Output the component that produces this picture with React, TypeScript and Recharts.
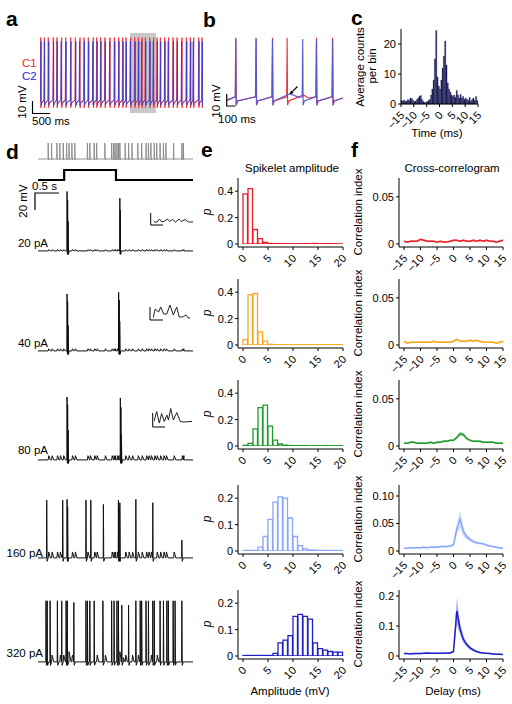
import React from 'react';
import { LineChart, Line, BarChart, Bar, ComposedChart, Area, XAxis, YAxis, ReferenceArea } from 'recharts';

const FONT = '"Liberation Sans", Arial, Helvetica, sans-serif';

// ---- panel a: paired recording, spike times in ms ----
const aC1Spikes = [19, 120, 231, 370, 472, 602, 713, 852, 982, 1112, 1223, 1343, 1482, 1575, 1686, 1806, 1946, 2066, 2187, 2298, 2391, 2520, 2632, 2734, 2836, 2928, 3048, 3159, 3252, 3345, 3465, 3576, 3697, 3808, 3947, 4067, 4178, 4271, 4410, 4503];
const aC2Spikes = [30, 128, 245, 378, 480, 590, 725, 860, 995, 1100, 1235, 1355, 1470, 1590, 1695, 1815, 1935, 2080, 2195, 2310, 2400, 2510, 2645, 2745, 2825, 2940, 3060, 3150, 3265, 3355, 3475, 3565, 3710, 3820, 3935, 4080, 4190, 4260, 4420, 4515];
const aWindow = [2502, 3225];

// ---- panel b: zoom of the shaded window ----
const bC1Spikes = [97, 322, 507, 669, 996, 1173];
const bC2Spikes = [99, 325, 505, 842, 994, 1176];
const bC1Bumps = [[850, -57.5], [905, -60]];
const bC2Bumps = [[700, -56.5], [800, -59.5]];

// ---- panel c: cross-correlation histogram, 0.5 ms bins from -15 ms ----
const cCounts = [
  1.2, 1.0, 1.3, 0.8, 1.0, 1.5, 1.2, 2.0, 1.8, 1.2,
  0.8, 1.0, 1.5, 2.0, 2.6, 2.8, 1.5, 0.8, 0.5, 0.6,
  0.8, 1.2, 1.5, 3.0, 5.0, 8.0, 15.0, 24.5, 9.0, 6.0,
  5.0, 8.0, 12.0, 16.0, 21.0, 13.0, 7.0, 5.0, 4.0, 3.0,
  2.5, 3.0, 2.2, 4.5, 3.0, 2.0, 3.2, 2.0, 2.5, 1.5,
  2.0, 1.5, 1.2, 2.2, 1.0, 1.5, 2.0, 1.2, 2.5, 1.2,
];
const cTicks = [-15, -10, -5, 0, 5, 10, 15];

// ---- panel d: presynaptic train, current step, postsynaptic responses (s, mV) ----
const dPreSpikes = [0.21, 0.28, 0.39, 0.45, 0.52, 0.59, 0.64, 0.70, 0.76, 1.02, 1.07, 1.16, 1.21, 1.38, 1.52, 1.56, 1.59, 1.63, 1.66, 1.69, 1.80, 1.87, 1.94, 2.06, 2.14, 2.23, 2.28, 2.33, 2.40, 2.45, 2.52, 2.59, 2.64, 2.80, 2.97, 3.00];
const dStep = [[0, 0], [0.54, 0], [0.54, 1], [1.61, 1], [1.61, 0], [3.2, 0]];
const dLabels = ['20 pA', '40 pA', '80 pA', '160 pA', '320 pA'];
const d20Spikes = [[0.6, 70], [0.612, 60], [0.622, 35], [1.69, 62], [1.7, 48]];
const d40Spikes = [[0.6, 67], [0.612, 58], [0.622, 30], [1.665, 69], [1.677, 60], [1.687, 35]];
const d80Spikes = [[0.6, 74], [0.612, 65], [0.622, 35], [1.7, 73], [1.712, 62], [1.722, 30]];
const d160Spikes = [[0.18, 68], [0.51, 68], [0.6, 69], [0.612, 60], [0.99, 68], [1.09, 68], [1.35, 63], [1.66, 68], [1.672, 60], [1.69, 65], [2.02, 69], [2.37, 65], [2.97, 21]];
const d320Spikes = [[0.165, 72], [0.19, 72], [0.25, 72], [0.40, 72], [0.49, 72], [0.58, 72], [0.605, 72], [0.74, 70], [0.99, 72], [1.02, 72], [1.07, 72], [1.16, 72], [1.34, 72], [1.52, 72], [1.57, 72], [1.63, 72], [1.66, 72], [1.73, 67], [1.87, 67], [2.02, 72], [2.11, 72], [2.14, 72], [2.23, 72], [2.28, 72], [2.37, 72], [2.40, 72], [2.52, 72], [2.59, 72], [2.66, 72], [2.69, 72], [2.79, 72], [2.83, 72], [2.97, 72]];
const d320Humps = [[0.64, 12], [0.7, 4], [1.69, 12], [1.76, 5]];
const dSpikeletAmp = [1.5, 2.5, 5, 7, 8];
const dSpikeletShape = [[0, 0], [0.012, 1], [0.045, 0]];
const inset20 = [[0, 2], [8, 2], [14, 5], [20, 2], [28, 3], [34, 5], [40, 2.5], [48, 4.5], [55, 2], [64, 5], [70, 2.5], [80, 4.5], [88, 2], [100, 2]];
const inset40 = [[0, 1], [6, 10], [15, 7], [21, 12], [29, 5], [37, 5], [46, 14], [55, 4], [64, 12], [71, 2], [80, 2], [89, 4], [95, 1], [100, 1]];
const inset80 = [[0, 1.5], [7, 11.5], [14, 0], [20, 9.5], [27, 1.5], [34, 8], [38, 3], [44, 14.5], [51, 3], [60, 10.5], [69, 1.5], [78, 1], [100, 1.5]];

// ---- panel e: spikelet amplitude distributions, 1 mV bins 0..20 ----
const eRed = [0.38, 0.42, 0.11, 0.04, 0.012, 0.004, 0.003, 0.003, 0.002, 0.002, 0.002, 0.002, 0.003, 0.002, 0.004, 0.002, 0.003, 0.003, 0.002, 0.001];
const eOrange = [0.04, 0.38, 0.39, 0.1, 0.03, 0.005, 0.003, 0.002, 0.002, 0.002, 0.002, 0.002, 0.002, 0.002, 0.002, 0.002, 0.002, 0.003, 0.003, 0.003];
const eGreen = [0.005, 0.02, 0.13, 0.29, 0.31, 0.15, 0.045, 0.015, 0.006, 0.004, 0.003, 0.003, 0.003, 0.002, 0.003, 0.002, 0.003, 0.002, 0.002, 0.002];
const eLight = [0.002, 0.002, 0.002, 0.015, 0.055, 0.12, 0.185, 0.205, 0.2, 0.125, 0.055, 0.02, 0.008, 0.004, 0.003, 0.002, 0.002, 0.002, 0.002, 0.002];
const eDark = [0.002, 0.002, 0.002, 0.002, 0.002, 0.002, 0.01, 0.05, 0.06, 0.077, 0.15, 0.158, 0.15, 0.14, 0.05, 0.028, 0.022, 0.017, 0.015, 0.015];
const eTicks = [0, 5, 10, 15, 20];

// ---- panel f: cross-correlograms, mean and s.e.m. per 1 ms delay ----
const fDelays = [-15, -14, -13, -12, -11, -10, -9, -8, -7, -6, -5, -4, -3, -2, -1, 0, 1, 2, 3, 4, 5, 6, 7, 8, 9, 10, 11, 12, 13, 14, 15];
const fRed = [0.003, 0.002, 0.003, 0.003, 0.003, 0.005, 0.004, 0.003, 0.003, 0.003, 0.002, 0.003, 0.002, 0.002, 0.003, 0.004, 0.004, 0.003, 0.004, 0.003, 0.003, 0.004, 0.003, 0.004, 0.003, 0.004, 0.003, 0.003, 0.002, 0.003, 0.004];
const fOrange = [0.004, 0.002, 0.003, 0.003, 0.003, 0.003, 0.003, 0.003, 0.003, 0.004, 0.003, 0.003, 0.003, 0.003, 0.003, 0.004, 0.006, 0.004, 0.004, 0.004, 0.005, 0.004, 0.005, 0.004, 0.003, 0.003, 0.003, 0.003, 0.002, 0.003, 0.004];
const fGreen = [0.003, 0.003, 0.004, 0.004, 0.003, 0.003, 0.003, 0.003, 0.004, 0.003, 0.004, 0.004, 0.005, 0.005, 0.006, 0.006, 0.009, 0.013, 0.012, 0.008, 0.006, 0.005, 0.005, 0.005, 0.004, 0.004, 0.004, 0.004, 0.003, 0.003, 0.003];
const fLight = [0.005, 0.005, 0.006, 0.006, 0.006, 0.006, 0.007, 0.006, 0.007, 0.007, 0.007, 0.008, 0.008, 0.008, 0.009, 0.012, 0.04, 0.058, 0.035, 0.026, 0.021, 0.017, 0.015, 0.014, 0.013, 0.011, 0.009, 0.008, 0.007, 0.006, 0.005];
const fDark = [0.008, 0.008, 0.007, 0.008, 0.008, 0.008, 0.009, 0.01, 0.009, 0.009, 0.009, 0.009, 0.009, 0.01, 0.01, 0.015, 0.15, 0.09, 0.055, 0.038, 0.027, 0.02, 0.015, 0.012, 0.01, 0.009, 0.008, 0.007, 0.006, 0.006, 0.005];
const fRedSem = [0.001, 0.001, 0.001, 0.001, 0.001, 0.001, 0.001, 0.001, 0.001, 0.001, 0.001, 0.001, 0.001, 0.001, 0.001, 0.001, 0.001, 0.001, 0.001, 0.001, 0.001, 0.001, 0.001, 0.001, 0.001, 0.001, 0.001, 0.001, 0.001, 0.001, 0.001];
const fOrangeSem = [0.001, 0.001, 0.001, 0.001, 0.001, 0.001, 0.001, 0.001, 0.001, 0.001, 0.001, 0.001, 0.001, 0.001, 0.001, 0.001, 0.0015, 0.001, 0.001, 0.001, 0.001, 0.001, 0.001, 0.001, 0.001, 0.001, 0.001, 0.001, 0.001, 0.001, 0.001];
const fGreenSem = [0.001, 0.001, 0.001, 0.001, 0.001, 0.001, 0.001, 0.001, 0.001, 0.001, 0.001, 0.001, 0.001, 0.001, 0.001, 0.0012, 0.0018, 0.0025, 0.002, 0.0015, 0.001, 0.001, 0.001, 0.001, 0.001, 0.001, 0.001, 0.001, 0.001, 0.001, 0.001];
const fLightSem = [0.0015, 0.0015, 0.0015, 0.0015, 0.0015, 0.0015, 0.0015, 0.0015, 0.0015, 0.0015, 0.0015, 0.0015, 0.0015, 0.0015, 0.002, 0.003, 0.01, 0.016, 0.008, 0.005, 0.004, 0.003, 0.0025, 0.002, 0.002, 0.002, 0.0015, 0.0015, 0.0015, 0.0015, 0.0015];
const fDarkSem = [0.002, 0.002, 0.002, 0.002, 0.002, 0.002, 0.002, 0.002, 0.002, 0.002, 0.002, 0.002, 0.002, 0.002, 0.003, 0.005, 0.045, 0.02, 0.012, 0.008, 0.006, 0.004, 0.003, 0.003, 0.003, 0.002, 0.002, 0.002, 0.002, 0.002, 0.002];
const fTicks = [-15, -10, -5, 0, 5, 10, 15];

const COLORS = ['#ee1c25', '#f7a81b', '#1e9a2a', '#8aa6ff', '#1f1fc8'];
const ROW_TOPS = [178, 279, 380, 485, 590];

type Shape = { pre: number[]; post: number[][] };
const aShapeC1: Shape = { pre: [-12, -60], post: [[4, -66], [18, -63]] };
const aShapeC2: Shape = { pre: [-12, -60], post: [[4, -64], [18, -62]] };
const bShape: Shape = { pre: [-6, -59], post: [[5, -66], [18, -62.5]] };
const dShape: Shape = { pre: [-0.004, 0], post: [[0.008, -4], [0.03, 0]] };

const spikePoints = (spikes: number[][], shape: Shape) =>
  spikes.flatMap(([t, peak]) => [[t + shape.pre[0], shape.pre[1]], [t, peak], ...shape.post.map(([dt, v]) => [t + dt, v])]);

const byTime = (a: any, b: any) => a.t - b.t;

const pairRows = (c1: number[][], c2: number[][]) =>
  [...c1.map(([t, v]) => ({ t, c1: v })), ...c2.map(([t, v]) => ({ t, c2: v }))].sort(byTime);

const dTraceRows = (spikes: number[][], amp: number, extra: number[][]) => {
  const near = (t: number) => spikes.some(([s]) => Math.abs(s - t) < 0.03);
  const lets = dPreSpikes.filter((t) => !near(t)).flatMap((t) => dSpikeletShape.map(([dt, k]) => [t + dt, k * amp]));
  return [[0, 0], [3.2, 0], ...spikePoints(spikes, dShape), ...lets, ...extra]
    .map(([t, v]) => ({ t, v }))
    .sort(byTime);
};

const aRows = pairRows(
  [[0, -62], ...spikePoints(aC1Spikes.map((t) => [t, -12]), aShapeC1), [4530, -62]],
  [[0, -61], ...spikePoints(aC2Spikes.map((t) => [t, -15]), aShapeC2), [4530, -61]],
);
const bRows = pairRows(
  [[0, -62], ...spikePoints(bC1Spikes.map((t) => [t, -10]), bShape), ...bC1Bumps, [1290, -60]],
  [[0, -61.5], ...spikePoints(bC2Spikes.map((t) => [t, -11]), bShape), ...bC2Bumps, [1290, -60]],
);
const preRows = [[0, 0], [3.2, 0], ...spikePoints(dPreSpikes.map((t) => [t, 16]), { pre: [-0.004, 0], post: [[0.008, -1], [0.02, 0]] })]
  .map(([t, v]) => ({ t, v }))
  .sort(byTime);
const stepRows = dStep.map(([t, v]) => ({ t, v }));
const dTraces = [
  dTraceRows(d20Spikes, dSpikeletAmp[0], []),
  dTraceRows(d40Spikes, dSpikeletAmp[1], []),
  dTraceRows(d80Spikes, dSpikeletAmp[2], []),
  dTraceRows(d160Spikes, dSpikeletAmp[3], []),
  dTraceRows(d320Spikes, dSpikeletAmp[4], d320Humps),
];
const D_BASELINES = [251, 351, 460, 558, 662];
const cRows = cCounts.map((n, i) => ({ t: -15 + 0.25 + i * 0.5, n }));

const fmtDash = (v: number) => String(v).replace('-', '\u2013');

const RotTick = (props: any) => {
  const { x, y, payload } = props;
  const px = x + 4;
  const py = y + 7;
  return (
    <text x={px} y={py} textAnchor="end" fontSize={11} fontFamily={FONT} fill="#000" transform={`rotate(-45 ${px} ${py})`}>
      {fmtDash(payload.value)}
    </text>
  );
};

const yTick = { fontSize: 11, fill: '#000', fontFamily: FONT };

const Trace = ({ rows, left, top, width, height, xDomain, yDomain, keys, colors, sw, children }: any) => (
  <div style={{ position: 'absolute', left, top }}>
    <LineChart width={width} height={height} data={rows} margin={{ top: 0, right: 0, bottom: 0, left: 0 }}>
      <XAxis type="number" dataKey="t" domain={xDomain} hide allowDataOverflow />
      <YAxis type="number" domain={yDomain} hide allowDataOverflow />
      {children}
      {keys.map((k: string, i: number) => (
        <Line key={k} dataKey={k} stroke={colors[i]} strokeWidth={sw} dot={false} connectNulls isAnimationActive={false} />
      ))}
    </LineChart>
  </div>
);

const Inset = ({ pts, left, top, width, height, yMax }: any) => (
  <Trace rows={pts.map(([t, v]: number[]) => ({ t, v }))} left={left} top={top} width={width} height={height}
    xDomain={[0, 100]} yDomain={[0, yMax]} keys={['v']} colors={['#222']} sw={1} />
);

const Hist = ({ row, values, color, yMax, yTicks }: any) => (
  <div style={{ position: 'absolute', left: 208, top: ROW_TOPS[row] - 3 }}>
    <BarChart width={143} height={100} data={values.map((p: number, i: number) => ({ x: i + 0.5, p }))} margin={{ top: 3, right: 8, bottom: 0, left: 0 }}>
      <XAxis type="number" dataKey="x" domain={[0, 20]} ticks={eTicks} interval={0} padding={{ left: 5, right: 0 }} height={28} tickSize={3} tick={<RotTick />} stroke="#000" />
      <YAxis type="number" domain={[0, yMax]} ticks={yTicks} interval={0} width={30} padding={{ top: 0, bottom: 3 }} tickSize={3} tick={yTick} stroke="#000" allowDataOverflow />
      <Bar dataKey="p" barSize={5} fill="#fff" stroke={color} strokeWidth={1.3} isAnimationActive={false} />
    </BarChart>
  </div>
);

const Corr = ({ row, mean, sem, color, yMax, yTicks, yLabels }: any) => (
  <div style={{ position: 'absolute', left: 359, top: ROW_TOPS[row] - 3 }}>
    <ComposedChart width={152} height={100} data={fDelays.map((d, i) => ({ d, m: mean[i], band: [mean[i] - sem[i], mean[i] + sem[i]] }))} margin={{ top: 3, right: 8, bottom: 0, left: 0 }}>
      <XAxis type="number" dataKey="d" domain={[-15, 15]} ticks={fTicks} interval={0} padding={{ left: 5, right: 0 }} height={28} tickSize={3} tick={<RotTick />} stroke="#000" />
      <YAxis type="number" domain={[0, yMax]} ticks={yTicks} interval={0} width={40} padding={{ top: 0, bottom: 3 }} tickSize={3} tick={yTick}
        tickFormatter={(v: number) => yLabels[yTicks.indexOf(v)] ?? String(v)} stroke="#000" allowDataOverflow />
      <Area dataKey="band" stroke="none" fill={color} fillOpacity={0.35} isAnimationActive={false} />
      <Line dataKey="m" stroke={color} strokeWidth={1.5} dot={false} isAnimationActive={false} />
    </ComposedChart>
  </div>
);

const T = ({ x, y, children, size = 11.5, anchor = 'start', fill = '#000', weight = 'normal', italic = false, rot = false }: any) => (
  <text x={rot ? 0 : x} y={rot ? 0 : y} transform={rot ? `translate(${x} ${y}) rotate(-90)` : undefined} fontSize={size}
    textAnchor={anchor} fill={fill} fontWeight={weight} fontStyle={italic ? 'italic' : 'normal'} fontFamily={FONT}>
    {children}
  </text>
);

export default function App() {
  const eSets = [
    { values: eRed, yMax: 0.5, yTicks: [0, 0.2, 0.4] },
    { values: eOrange, yMax: 0.5, yTicks: [0, 0.2, 0.4] },
    { values: eGreen, yMax: 0.5, yTicks: [0, 0.2, 0.4] },
    { values: eLight, yMax: 0.25, yTicks: [0, 0.1, 0.2] },
    { values: eDark, yMax: 0.25, yTicks: [0, 0.1, 0.2] },
  ];
  const fSets = [
    { mean: fRed, sem: fRedSem, yMax: 0.07, yTicks: [0, 0.05], yLabels: ['0', '0.05'] },
    { mean: fOrange, sem: fOrangeSem, yMax: 0.07, yTicks: [0, 0.05], yLabels: ['0', '0.05'] },
    { mean: fGreen, sem: fGreenSem, yMax: 0.07, yTicks: [0, 0.05], yLabels: ['0', '0.05'] },
    { mean: fLight, sem: fLightSem, yMax: 0.12, yTicks: [0, 0.05, 0.1], yLabels: ['0', '0.05', '0.10'] },
    { mean: fDark, sem: fDarkSem, yMax: 0.22, yTicks: [0, 0.1, 0.2], yLabels: ['0', '0.1', '0.2'] },
  ];
  return (
    <div style={{ position: 'absolute', left: 0, top: 0, width: 512, height: 704, background: '#fff', overflow: 'hidden' }}>
      {/* a */}
      <Trace rows={aRows} left={40} top={33} width={163} height={80} xDomain={[0, 4530]} yDomain={[-70, -8.5]}
        keys={['c1', 'c2']} colors={['#f0303a', '#3b3bd0']} sw={0.9}>
        <ReferenceArea x1={aWindow[0]} x2={aWindow[1]} fill="#c8c8c8" fillOpacity={1} stroke="none" />
      </Trace>
      {/* b */}
      <Trace rows={bRows} left={227} top={33} width={116} height={77} xDomain={[0, 1290]} yDomain={[-70, -6]}
        keys={['c1', 'c2']} colors={['#f0303a', '#5656d8']} sw={1.1} />
      {/* c */}
      <div style={{ position: 'absolute', left: 371, top: 25 }}>
        <BarChart width={115} height={109} data={cRows} margin={{ top: 4, right: 8, bottom: 0, left: 0 }}>
          <XAxis type="number" dataKey="t" domain={[-15, 15]} ticks={cTicks} interval={0} height={30} tickSize={3} tick={<RotTick />} stroke="#000" />
          <YAxis type="number" domain={[0, 25]} ticks={[0, 10, 20]} interval={0} width={30} tickSize={3} tick={yTick} stroke="#000" />
          <Bar dataKey="n" barSize={1.3} fill="#1b1b55" stroke="#1b1b55" strokeWidth={0.3} isAnimationActive={false} />
        </BarChart>
      </div>
      {/* d */}
      <Trace rows={preRows} left={38} top={141} width={155} height={20} xDomain={[0, 3.2]} yDomain={[-2, 18]} keys={['v']} colors={['#888']} sw={0.9} />
      <Trace rows={stepRows} left={38} top={168} width={155} height={15} xDomain={[0, 3.2]} yDomain={[-0.3, 1.2]} keys={['v']} colors={['#000']} sw={2.2} />
      {dTraces.map((rows, i) => (
        <Trace key={i} rows={rows} left={38} top={D_BASELINES[i] - 68} width={155} height={73} xDomain={[0, 3.2]} yDomain={[-6, 80]} keys={['v']} colors={['#111']} sw={1} />
      ))}
      <Inset pts={inset20} left={154} top={214} width={39} height={10} yMax={10} />
      <Inset pts={inset40} left={153} top={303} width={37} height={16} yMax={16} />
      <Inset pts={inset80} left={154} top={405} width={38} height={18} yMax={18} />
      {/* e */}
      {eSets.map((s, i) => <Hist key={i} row={i} color={COLORS[i]} {...s} />)}
      {/* f */}
      {fSets.map((s, i) => <Corr key={i} row={i} color={COLORS[i]} {...s} />)}

      <svg width={512} height={704} style={{ position: 'absolute', left: 0, top: 0, pointerEvents: 'none' }}>
        <T x={6} y={26} size={21} weight="bold">a</T>
        <T x={203} y={27} size={21} weight="bold">b</T>
        <T x={351} y={25} size={21} weight="bold">c</T>
        <T x={6} y={159} size={21} weight="bold">d</T>
        <T x={201} y={157} size={21} weight="bold">e</T>
        <T x={351} y={157} size={21} weight="bold">f</T>

        <T x={22} y={67} fill="#ee1c25">C1</T>
        <T x={22} y={80} fill="#2b2bd0">C2</T>
        <path d="M32.5,101 V113.5 H50" stroke="#000" strokeWidth={1.2} fill="none" />
        <T x={26} y={102} anchor="middle" rot>10 mV</T>
        <T x={32} y={125}>500 ms</T>

        <path d="M226.7,94 V106 H235.5" stroke="#000" strokeWidth={1.2} fill="none" />
        <T x={220} y={101} anchor="middle" rot>10 mV</T>
        <T x={218} y={123}>100 ms</T>
        <path d="M297.5,86.5 L292.3,91.7" stroke="#000" strokeWidth={1.2} />
        <path d="M289.5,94.5 L293.6,93 L291,90.4 Z" fill="#000" />

        <T x={364} y={67} anchor="middle" rot>Average counts</T>
        <T x={376} y={66} anchor="middle" rot>per bin</T>
        <T x={437} y={137} anchor="middle">Time (ms)</T>

        <T x={32} y={190}>0.5 s</T>
        <path d="M35,210 V193 H59" stroke="#000" strokeWidth={1.2} fill="none" />
        <T x={27} y={201} anchor="middle" rot>20 mV</T>
        {dLabels.map((l, i) => (
          <T key={l} x={i < 3 ? 48 : 43} y={[247, 347, 454, 557, 657][i]} anchor="end">{l}</T>
        ))}
        <path d="M150.7,213 V225 H163" stroke="#000" strokeWidth={1} fill="none" />
        <path d="M150,307 V320 H163" stroke="#000" strokeWidth={1} fill="none" />
        <path d="M152.7,413 V427 H165" stroke="#000" strokeWidth={1} fill="none" />

        <T x={292} y={172} anchor="middle">Spikelet amplitude</T>
        <T x={290} y={695} anchor="middle">Amplitude (mV)</T>
        {ROW_TOPS.map((t, i) => (
          <T key={'p' + i} x={211} y={t + 34} anchor="middle" italic rot size={12}>p</T>
        ))}

        <T x={452} y={172} anchor="middle">Cross-correlogram</T>
        <T x={453} y={695} anchor="middle">Delay (ms)</T>
        {ROW_TOPS.map((t, i) => (
          <T key={'c' + i} x={362} y={t + 34} anchor="middle" rot>Correlation index</T>
        ))}
      </svg>
    </div>
  );
}
